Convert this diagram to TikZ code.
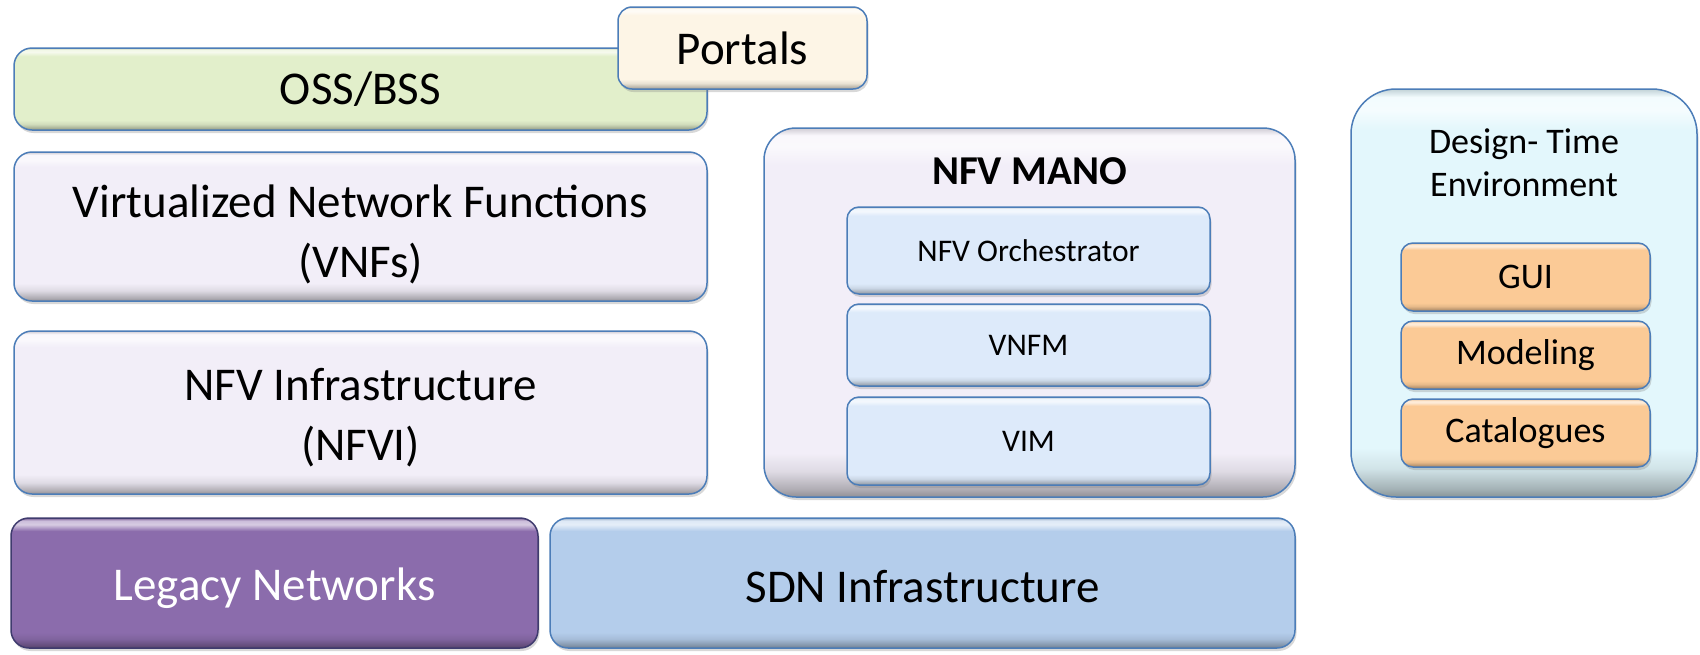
\documentclass[tikz,border=0pt]{standalone}
\usepackage{fontspec}
\setmainfont{Carlito}
\usetikzlibrary{shadows}

% Box colours
\definecolor{edgeblue}{HTML}{4C7DB8}
\definecolor{edgeplum}{HTML}{3F3B6E}
\definecolor{ossgreen}{HTML}{E2EFCB}
\definecolor{portalcream}{HTML}{FDF5E6}
\definecolor{lavender}{HTML}{F2EEF8}
\definecolor{manoblue}{HTML}{DDEAFA}
\definecolor{designcyan}{HTML}{E3F7FC}
\definecolor{toolorange}{HTML}{FBCA96}
\definecolor{legacyplum}{HTML}{8B6CAC}
\definecolor{sdnblue}{HTML}{B4CDEB}
\colorlet{bevbase}{white}

% Bevelled fill: dark rim at the bottom, flat body, light rim at the top
\pgfdeclareverticalshading[bevbase]{bevel}{100bp}{%
  color(0bp)=(bevbase!60!black); color(25bp)=(bevbase!60!black);
  color(26bp)=(bevbase!72!black); color(28.5bp)=(bevbase!92!black);
  color(31bp)=(bevbase);
  color(70bp)=(bevbase); color(72.5bp)=(bevbase!35!white);
  color(74bp)=(bevbase!45!white); color(75bp)=(bevbase!85!black);
  color(100bp)=(bevbase!85!black)}

\tikzset{
  panel/.style={draw=edgeblue, line width=1.5pt, rounded corners=18pt,
    inner sep=0pt, align=center,
    drop shadow={shadow xshift=1.5pt, shadow yshift=-3pt, opacity=.3}},
  tone/.style={shading=bevel, /utils/exec={\colorlet{bevbase}{#1}}},
  bigtext/.style={font=\fontsize{47}{60}\selectfont},
  subtext/.style={font=\fontsize{31.5}{38}\selectfont},
  tooltext/.style={font=\fontsize{36}{43}\selectfont},
}
% invisible strut that lowers a label inside its box
\newcommand{\lowerby}[1]{\rule{0pt}{#1}}

\begin{document}
\begin{tikzpicture}[x=1pt,y=-1pt]
\useasboundingbox[fill=white] (0,0) rectangle (1700,654);

% Left stack
\node[panel, tone=ossgreen, bigtext, minimum width=693pt, minimum height=82pt]
  (oss) at (360.5,89) {OSS/BSS};
\node[panel, tone=portalcream, bigtext, rounded corners=14pt,
  minimum width=249pt, minimum height=82pt]
  (portals) at (742.5,48) {Portals};
\node[panel, tone=lavender, bigtext, minimum width=693pt, minimum height=149pt]
  (vnf) at (360.5,226.5) {\lowerby{48pt}Virtualized Network Functions\\(VNFs)};
\node[panel, tone=lavender, bigtext, minimum width=693pt, minimum height=163pt]
  (nfvi) at (360.5,412.5) {\lowerby{42pt}NFV Infrastructure\\(NFVI)};

% NFV MANO block
\node[panel, tone=lavender, rounded corners=32pt,
  minimum width=531pt, minimum height=369pt] (mano) at (1029.5,312.5) {};
\node[font=\fontsize{41}{48}\selectfont\bfseries] (manotitle) at (1029.5,171) {NFV MANO};
\node[panel, tone=manoblue, subtext, rounded corners=12pt,
  minimum width=363pt, minimum height=87pt] (orch) at (1028.5,250.5) {NFV Orchestrator};
\node[panel, tone=manoblue, subtext, rounded corners=12pt,
  minimum width=363pt, minimum height=82pt] (vnfm) at (1028.5,345) {VNFM};
\node[panel, tone=manoblue, subtext, rounded corners=12pt,
  minimum width=363pt, minimum height=88pt] (vim) at (1028.5,441) {VIM};

% Design-time environment
\node[panel, tone=designcyan, rounded corners=45pt,
  minimum width=346pt, minimum height=408pt] (design) at (1524,293) {};
\node[tooltext, align=center] (designtitle) at (1524,163) {Design- Time\\Environment};
\node[panel, tone=toolorange, tooltext, rounded corners=12pt,
  minimum width=249pt, minimum height=68pt] (gui) at (1525.5,277) {GUI};
\node[panel, tone=toolorange, tooltext, rounded corners=12pt,
  minimum width=249pt, minimum height=68pt] (modeling) at (1525.5,355) {Modeling};
\node[panel, tone=toolorange, tooltext, rounded corners=12pt,
  minimum width=249pt, minimum height=68pt] (catalogues) at (1525.5,433) {Catalogues};

% Bottom layer
\node[panel, draw=edgeplum, tone=legacyplum, bigtext, text=white,
  minimum width=527pt, minimum height=130pt] (legacy) at (274.5,583) {\lowerby{44pt}Legacy Networks};
\node[panel, tone=sdnblue, bigtext,
  minimum width=745pt, minimum height=130pt] (sdn) at (922.5,583) {\lowerby{39pt}SDN Infrastructure};
\end{tikzpicture}
\end{document}
